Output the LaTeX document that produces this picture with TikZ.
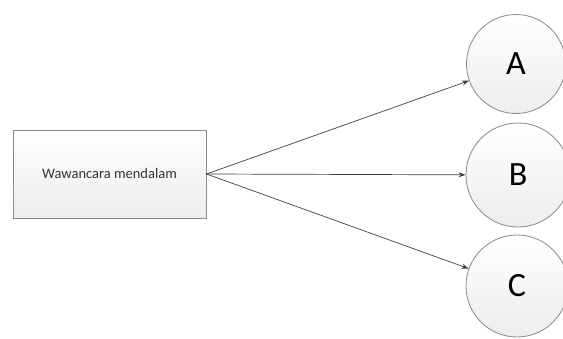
\documentclass[tikz,border=0pt]{standalone}
\usepackage{fontspec}
\setmainfont{Carlito}
\usetikzlibrary{arrows.meta}
\definecolor{edgegray}{HTML}{8A8A8A}
\definecolor{linegray}{HTML}{404040}
\definecolor{txtgray}{HTML}{333333}
\tikzset{
  boxnode/.style={draw=edgegray, line width=1pt, top color=white, bottom color=gray!14,
    minimum width=193pt, minimum height=88pt, inner sep=0pt, text=txtgray,
    font=\fontsize{14.5}{16}\selectfont},
  letternode/.style={circle, draw=edgegray, line width=0.8pt, top color=white, bottom color=gray!14,
    inner sep=0pt, font=\fontsize{34}{38}\selectfont, text=black},
  conn/.style={draw=linegray, line width=0.7pt, -{Stealth[length=7pt,width=5pt]}}
}
\begin{document}
\begin{tikzpicture}[x=1pt,y=-1pt]
\useasboundingbox (0,0) rectangle (563,338);
\node[boxnode] (box) at (109.5,174) {Wawancara mendalam};
\node[letternode, minimum size=99pt] (A) at (516,64) {A};
\node[letternode, minimum size=104pt] (B) at (518,175) {B};
\node[letternode, minimum size=102pt] (C) at (517,286) {C};
\draw[conn] (box.east) -- (A);
\draw[conn] (box.east) -- (B);
\draw[conn] (box.east) -- (C);
\end{tikzpicture}
\end{document}
